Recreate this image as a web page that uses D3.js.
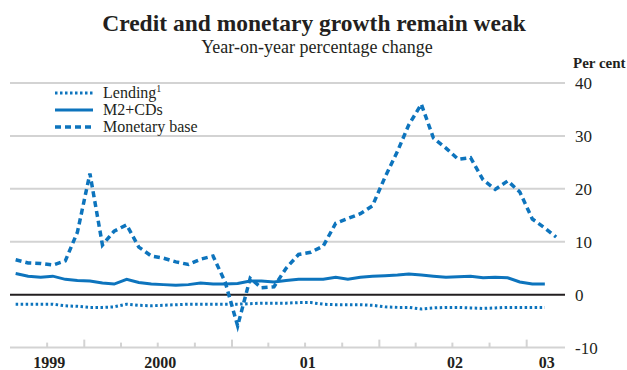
<!DOCTYPE html>
<html>
<head>
<meta charset="utf-8">
<script src="https://cdn.jsdelivr.net/npm/d3@7.9.0/dist/d3.min.js"></script>
<style>
  html, body { margin: 0; padding: 0; background: #fff; }
  svg { display: block; font-family: "Liberation Serif", "Times New Roman", serif; }
</style>
</head>
<body>
<div id="chart"></div>
<script>
// monthly observations, first month = July 1999 (plotted mid-month)
const startMonth = new Date(1999, 6, 1);

const lending = [
  -1.8, -1.8, -1.8, -1.8, -2.1, -2.2, -2.4, -2.4, -2.3, -1.8, -2.0, -2.1,
  -2.0, -1.9, -1.8, -1.8, -1.8, -1.8, -1.8, -1.7, -1.6, -1.6, -1.6, -1.5,
  -1.5, -1.8, -1.9, -1.9, -1.9, -2.0, -2.3, -2.4, -2.4, -2.7, -2.5, -2.4,
  -2.4, -2.5, -2.6, -2.5, -2.4, -2.4, -2.4, -2.4
];

const m2cds = [
  4.0, 3.5, 3.3, 3.5, 2.9, 2.7, 2.6, 2.2, 2.0, 2.9, 2.3, 2.0,
  1.9, 1.8, 1.9, 2.2, 2.0, 2.0, 2.1, 2.6, 2.6, 2.4, 2.7, 2.9,
  2.9, 2.9, 3.3, 2.9, 3.3, 3.5, 3.6, 3.7, 3.9, 3.7, 3.5, 3.3,
  3.4, 3.5, 3.2, 3.3, 3.2, 2.4, 2.0, 2.0
];

const monetaryBase = [
  6.6, 6.0, 5.9, 5.6, 6.4, 11.8, 22.9, 9.4, 12.0, 13.2, 9.0, 7.3,
  6.9, 6.2, 5.7, 6.7, 7.3, 2.4, -5.9, 3.1, 1.3, 1.5, 5.0, 7.6,
  8.0, 9.2, 13.5, 14.4, 15.3, 16.8, 22.2, 27.1, 32.1, 36.0, 29.6, 27.7,
  25.6, 25.9, 21.7, 19.9, 21.5, 19.4, 14.3, 12.6, 10.9
];

const seriesNames = ['Lending', 'M2+CDs', 'Monetary base'];
const yTicks = [-10, 0, 10, 20, 30, 40];
const yearLabels = ['1999', '2000', '01', '02', '03'];

const width = 627, height = 370;
const plot = { left: 10, right: 563, top: 83, bottom: 347.6 };
const blue = '#0d74bd';

const svg = d3.select('#chart').append('svg')
  .attr('width', width).attr('height', height);

const xScale = d3.scaleTime()
  .domain([startMonth, new Date(2003, 3, 1)])
  .range([plot.left, plot.right]);

const yScale = d3.scaleLinear()
  .domain([-10, 40])
  .range([plot.bottom, plot.top]);

const midMonth = i => d3.timeDay.offset(d3.timeMonth.offset(startMonth, i), 14);

// title
svg.append('text')
  .attr('x', 314).attr('y', 31)
  .attr('text-anchor', 'middle')
  .attr('font-weight', 'bold').attr('font-size', 23.5)
  .attr('fill', '#231f20')
  .text('Credit and monetary growth remain weak');
svg.append('text')
  .attr('x', 317).attr('y', 53)
  .attr('text-anchor', 'middle')
  .attr('font-size', 18)
  .attr('fill', '#231f20')
  .text('Year-on-year percentage change');

svg.append('text')
  .attr('x', 573).attr('y', 68)
  .attr('font-size', 15).attr('font-weight', 'bold')
  .attr('fill', '#231f20')
  .text('Per cent');

// gridlines + right labels
const grid = svg.append('g');
grid.selectAll('line')
  .data(yTicks.filter(d => d !== 0))
  .join('line')
  .attr('x1', plot.left).attr('x2', plot.right + 2)
  .attr('y1', d => yScale(d)).attr('y2', d => yScale(d))
  .attr('stroke', '#d3d3d3').attr('stroke-width', 2);

svg.append('g')
  .selectAll('text')
  .data(yTicks)
  .join('text')
  .attr('x', 575)
  .attr('y', d => yScale(d) + 6)
  .attr('font-size', 17)
  .attr('fill', '#231f20')
  .text(d => d);

// quarterly ticks on bottom axis, longer at year starts
const quarters = d3.timeMonth.every(3).range(new Date(1999, 9, 1), new Date(2003, 1, 1));
svg.append('g')
  .selectAll('line')
  .data(quarters)
  .join('line')
  .attr('x1', d => xScale(d)).attr('x2', d => xScale(d))
  .attr('y1', plot.bottom)
  .attr('y2', d => plot.bottom - (d.getMonth() === 0 ? 8 : 5))
  .attr('stroke', '#d3d3d3').attr('stroke-width', 2);

// year labels, centred on the visible part of each year
const yearStarts = [startMonth, new Date(2000, 0, 1), new Date(2001, 0, 1), new Date(2002, 0, 1), new Date(2003, 0, 1)];
const yearEnds = [new Date(2000, 0, 1), new Date(2001, 0, 1), new Date(2002, 0, 1), new Date(2003, 0, 1), new Date(2003, 3, 1)];
svg.append('g')
  .selectAll('text')
  .data(yearLabels)
  .join('text')
  .attr('x', (d, i) => (xScale(yearStarts[i]) + xScale(yearEnds[i])) / 2 + 2)
  .attr('y', 368)
  .attr('text-anchor', 'middle')
  .attr('font-size', 16).attr('font-weight', 'bold')
  .attr('fill', '#231f20')
  .text(d => d);

// zero line
svg.append('line')
  .attr('x1', plot.left).attr('x2', plot.right + 2)
  .attr('y1', yScale(0)).attr('y2', yScale(0))
  .attr('stroke', '#231f20').attr('stroke-width', 2);

const line = d3.line()
  .x((d, i) => xScale(midMonth(i)))
  .y(d => yScale(d));

const styles = [
  { data: lending, dash: '2.5,2.5', w: 3 },
  { data: m2cds, dash: null, w: 3 },
  { data: monetaryBase, dash: '6,4', w: 3.5 }
];

svg.append('g')
  .selectAll('path')
  .data(styles)
  .join('path')
  .attr('d', d => line(d.data))
  .attr('fill', 'none')
  .attr('stroke', blue)
  .attr('stroke-width', d => d.w)
  .attr('stroke-dasharray', d => d.dash);

// legend
const legend = svg.append('g');
const rowY = [93, 110, 127];
styles.forEach((s, i) => {
  legend.append('line')
    .attr('x1', 55).attr('x2', 93)
    .attr('y1', rowY[i]).attr('y2', rowY[i])
    .attr('stroke', blue).attr('stroke-width', s.w)
    .attr('stroke-dasharray', s.dash);
  const t = legend.append('text')
    .attr('x', 103).attr('y', rowY[i] + 5)
    .attr('font-size', 16)
    .attr('fill', '#231f20')
    .text(seriesNames[i]);
  if (i === 0) {
    t.append('tspan').attr('font-size', 10).attr('dy', -6).text('1');
  }
});
</script>
</body>
</html>
